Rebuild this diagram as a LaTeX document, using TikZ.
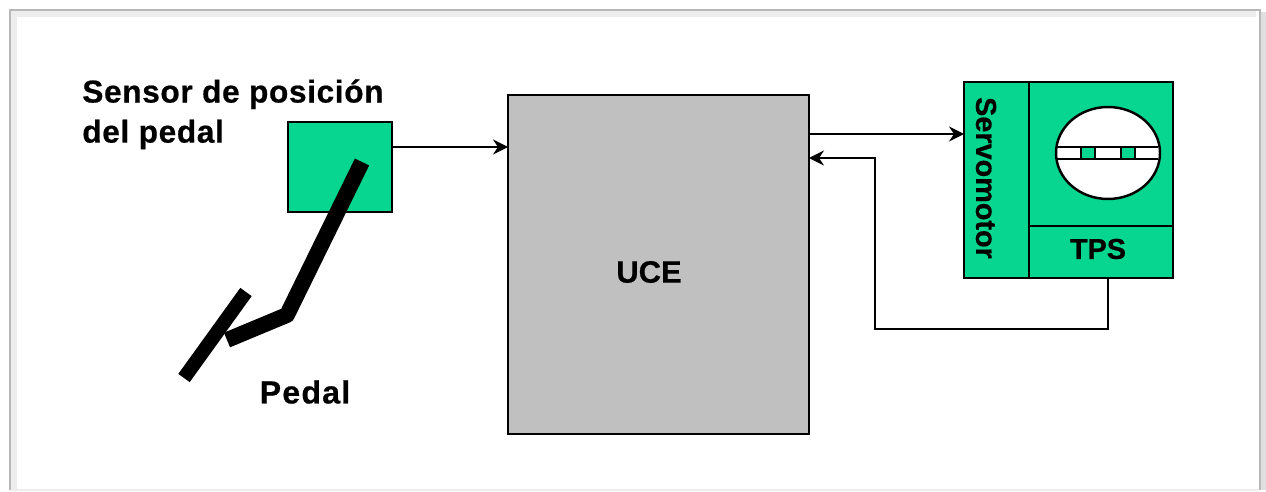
\documentclass[tikz,border=0pt]{standalone}
\usepackage{fontspec}
\setmainfont{Liberation Sans}
\newfontfamily\labelfont[LetterSpace=4,FakeBold=0.6]{Liberation Sans Bold}
\newfontfamily\tightfont[LetterSpace=2,FakeBold=0.6]{Liberation Sans Bold}
\newfontfamily\plainfont[FakeBold=0.6]{Liberation Sans Bold}
\usepackage{tikz}
\usetikzlibrary{arrows.meta, shapes.geometric}
\definecolor{pedalgreen}{HTML}{06D68F}
\definecolor{ucegray}{HTML}{C0C0C0}
\tikzset{
    block/.style={draw=black, line width=1.5pt, inner sep=0pt, outer sep=0pt},
    greenblock/.style={block, fill=pedalgreen},
    wire/.style={draw=black, line width=1.6pt},
    arrowwire/.style={wire, -{Stealth[length=8.5pt, width=8.5pt]}},
    lever/.style={draw=black, line width=#1},
    title/.style={font=\tightfont\fontsize{18}{22.8}\selectfont, align=left, inner sep=0pt},
    boxtext/.style={font=\plainfont\fontsize{16.4}{20}\selectfont, inner sep=0pt},
    frameline/.style={line width=#1, draw=black!28},
}
\begin{document}
\begin{tikzpicture}[x=0.02cm, y=-0.02cm]
    \useasboundingbox (0,0) rectangle (1266,492);
    % frame
    \draw[draw=black!7, line width=4pt] (13,490) -- (13,13) -- (1256,13);
    \draw[draw=black!12, line width=4pt] (1263,12) -- (1263,490);
    \draw[draw=black!7, line width=1pt] (11,490) -- (1259,490);
    \draw[frameline=1.2pt] (10,490) -- (10,10) -- (1260,10) -- (1260,490);

    % blocks
    \node[greenblock, minimum width=2.08cm, minimum height=1.80cm] (sensor) at (340,167) {};
    \node[block, fill=ucegray, minimum width=6.02cm, minimum height=6.78cm] (uce) at (658.5,264.5) {};
    \node[boxtext, font=\plainfont\fontsize{17.6}{22}\selectfont] (ucetext) at (649,272) {UCE};
    \node[greenblock, minimum width=1.30cm, minimum height=3.92cm] (servo) at (996.5,180) {};
    \node[greenblock, minimum width=2.88cm, minimum height=2.88cm] (valve) at (1101,154) {};
    \node[greenblock, minimum width=2.88cm, minimum height=1.04cm] (tps) at (1101,252) {};
    \node[boxtext, rotate=-90] (servotext) at (986,178) {Servomotor};
    \node[boxtext] (tpstext) at (1098,249) {TPS};

    % valve
    \node[ellipse, draw=black, line width=1.4pt, fill=white, minimum width=2.08cm, minimum height=1.84cm, inner sep=0pt] (disc) at (1108,153) {};
    \coordinate (bandA) at (1057,147);
    \coordinate (bandB) at (1158,147);
    \coordinate (bandC) at (1057,159);
    \coordinate (bandD) at (1158,159);
    \node[fill=pedalgreen, draw=black, line width=1pt, minimum width=0.27cm, minimum height=0.24cm, inner sep=0pt] (slotA) at (1088,153) {};
    \node[fill=pedalgreen, draw=black, line width=1pt, minimum width=0.27cm, minimum height=0.24cm, inner sep=0pt] (slotB) at (1128,153) {};
    \draw[line width=1.4pt] (bandA) -- (bandB);
    \draw[line width=1.4pt] (bandC) -- (bandD);

    % pedal
    \coordinate (P1) at (362,162);
    \coordinate (P2) at (287,315);
    \coordinate (P3) at (227,340);
    \coordinate (P4) at (246,292);
    \coordinate (P5) at (184,378);
    \draw[lever=9pt, line join=round] (P1) -- (P2) -- (P3);
    \draw[lever=8pt] (P4) -- (P5);

    % labels
    \node[title, anchor=north west] (sensorlabel) at (82,79) {Sensor de posición\\del pedal};
    \node[title, font=\labelfont\fontsize{18.2}{22.8}\selectfont, anchor=center] (pedallabel) at (305,392) {Pedal};

    % wires
    \coordinate (sensorout) at (sensor.east |- 0,147);
    \coordinate (ucein) at (uce.west |- 0,147);
    \coordinate (uceout) at (uce.east |- 0,134);
    \coordinate (servoin) at (servo.west |- 0,134);
    \coordinate (uceback) at (uce.east |- 0,158);
    \coordinate (tpsout) at (1108,278);
    \draw[arrowwire] (sensorout) -- (ucein);
    \draw[arrowwire] (uceout) -- (servoin);
    \draw[arrowwire] (tpsout) -- (1108,329) -- (875,329) -- (875,158) -- (uceback);
\end{tikzpicture}
\end{document}
